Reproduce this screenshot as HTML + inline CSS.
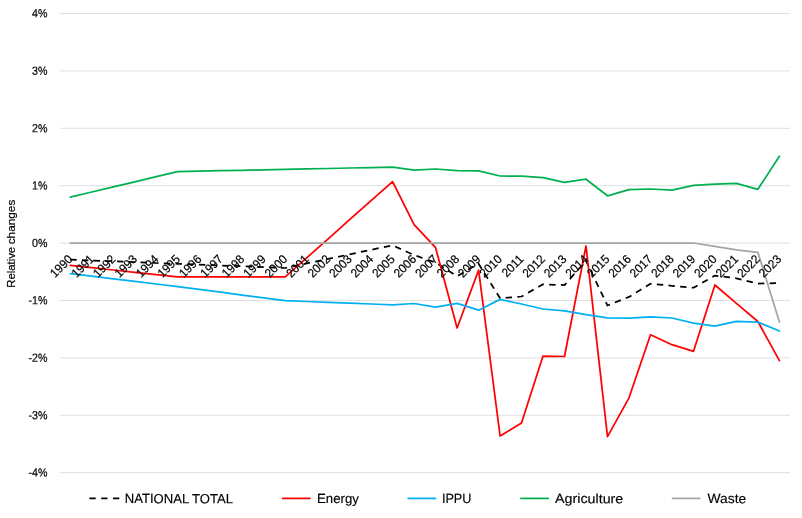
<!DOCTYPE html>
<html><head><meta charset="utf-8"><title>chart</title>
<style>
html,body{margin:0;padding:0;background:#fff;}
svg{display:block;will-change:transform;}
text{font-family:"Liberation Sans",sans-serif;fill:#000;}
.ax{font-size:12.3px;stroke:#000;stroke-width:0.2px;}
.lg{font-size:13.3px;stroke:#000;stroke-width:0.15px;}
</style></head><body>
<svg width="802" height="518" viewBox="0 0 802 518">
<rect width="802" height="518" fill="#fff"/>

<line x1="59.9" x2="789.9" y1="13.5" y2="13.5" stroke="#d9d9d9" stroke-width="0.85"/>
<line x1="59.9" x2="789.9" y1="70.9" y2="70.9" stroke="#d9d9d9" stroke-width="0.85"/>
<line x1="59.9" x2="789.9" y1="128.3" y2="128.3" stroke="#d9d9d9" stroke-width="0.85"/>
<line x1="59.9" x2="789.9" y1="185.7" y2="185.7" stroke="#d9d9d9" stroke-width="0.85"/>
<line x1="59.9" x2="789.9" y1="243.1" y2="243.1" stroke="#d9d9d9" stroke-width="0.85"/>
<line x1="59.9" x2="789.9" y1="300.5" y2="300.5" stroke="#d9d9d9" stroke-width="0.85"/>
<line x1="59.9" x2="789.9" y1="357.9" y2="357.9" stroke="#d9d9d9" stroke-width="0.85"/>
<line x1="59.9" x2="789.9" y1="415.3" y2="415.3" stroke="#d9d9d9" stroke-width="0.85"/>
<line x1="59.9" x2="789.9" y1="472.7" y2="472.7" stroke="#d9d9d9" stroke-width="0.85"/>
<text class="ax" style="font-size:11.8px" text-anchor="end" transform="translate(47.5,17.35) rotate(0.05) scale(0.905,1)">4%</text>
<text class="ax" style="font-size:11.8px" text-anchor="end" transform="translate(47.5,74.75) rotate(0.05) scale(0.905,1)">3%</text>
<text class="ax" style="font-size:11.8px" text-anchor="end" transform="translate(47.5,132.15) rotate(0.05) scale(0.905,1)">2%</text>
<text class="ax" style="font-size:11.8px" text-anchor="end" transform="translate(47.5,189.55) rotate(0.05) scale(0.905,1)">1%</text>
<text class="ax" style="font-size:11.8px" text-anchor="end" transform="translate(47.5,246.95) rotate(0.05) scale(0.905,1)">0%</text>
<text class="ax" style="font-size:11.8px" text-anchor="end" transform="translate(47.5,304.35) rotate(0.05) scale(0.905,1)">-1%</text>
<text class="ax" style="font-size:11.8px" text-anchor="end" transform="translate(47.5,361.75) rotate(0.05) scale(0.905,1)">-2%</text>
<text class="ax" style="font-size:11.8px" text-anchor="end" transform="translate(47.5,419.15) rotate(0.05) scale(0.905,1)">-3%</text>
<text class="ax" style="font-size:11.8px" text-anchor="end" transform="translate(47.5,476.55) rotate(0.05) scale(0.905,1)">-4%</text>
<g fill="none" stroke-linejoin="round" stroke-linecap="butt" stroke-width="1.75">
<path d="M70.3,259.6 L91.8,260.5 L113.3,261.3 L134.8,262.1 L156.3,263.0 L177.7,263.8 L199.2,264.6 L220.7,265.5 L242.2,266.3 L263.7,267.1 L285.2,268.0 L306.7,263.4 L328.2,258.9 L349.6,254.4 L371.1,249.8 L392.6,245.3 L414.1,255.1 L435.6,262.5 L457.1,276.3 L478.6,263.7 L500.1,298.3 L521.5,296.5 L543.0,284.3 L564.5,285.1 L586.0,260.8 L607.5,305.5 L629.0,296.9 L650.5,283.7 L672.0,285.8 L693.5,287.7 L714.9,275.6 L736.4,278.3 L757.9,283.7 L779.4,282.9" stroke="#000" stroke-dasharray="6.4 5.3"/>
<path d="M70.3,265.4 L91.8,267.7 L113.3,270.0 L134.8,272.3 L156.3,274.6 L177.7,276.9 L199.2,276.9 L220.7,276.9 L242.2,276.9 L263.7,276.9 L285.2,276.9 L306.7,257.8 L328.2,238.8 L349.6,219.7 L371.1,200.6 L392.6,181.6 L414.1,224.6 L435.6,247.7 L457.1,328.0 L478.6,270.1 L500.1,436.0 L521.5,423.0 L543.0,356.1 L564.5,356.5 L586.0,246.0 L607.5,436.6 L629.0,397.8 L650.5,334.8 L672.0,344.7 L693.5,351.3 L714.9,285.0 L736.4,303.3 L757.9,321.5 L779.4,360.7" stroke="#ff0000" stroke-linecap="round"/>
<path d="M70.3,273.6 L91.8,276.2 L113.3,278.8 L134.8,281.4 L156.3,284.0 L177.7,286.6 L199.2,289.4 L220.7,292.2 L242.2,295.1 L263.7,297.9 L285.2,300.7 L306.7,301.5 L328.2,302.3 L349.6,303.2 L371.1,304.0 L392.6,304.8 L414.1,303.5 L435.6,307.2 L457.1,303.3 L478.6,310.2 L500.1,299.4 L521.5,304.0 L543.0,309.0 L564.5,310.8 L586.0,314.6 L607.5,317.8 L629.0,318.2 L650.5,316.8 L672.0,318.0 L693.5,323.2 L714.9,326.1 L736.4,321.3 L757.9,322.1 L779.4,331.0" stroke="#00b0f0" stroke-linecap="round"/>
<path d="M70.3,197.1 L91.8,192.0 L113.3,186.9 L134.8,181.8 L156.3,176.7 L177.7,171.6 L199.2,171.1 L220.7,170.7 L242.2,170.3 L263.7,169.8 L285.2,169.4 L306.7,168.9 L328.2,168.5 L349.6,168.0 L371.1,167.6 L392.6,167.1 L414.1,170.2 L435.6,169.0 L457.1,170.6 L478.6,170.8 L500.1,176.0 L521.5,176.2 L543.0,177.7 L564.5,182.4 L586.0,179.2 L607.5,195.8 L629.0,189.6 L650.5,189.0 L672.0,190.2 L693.5,185.4 L714.9,184.2 L736.4,183.3 L757.9,189.3 L779.4,156.2" stroke="#00b050" stroke-linecap="round"/>
<path d="M70.3,243.0 L91.8,243.0 L113.3,243.0 L134.8,243.0 L156.3,243.0 L177.7,243.0 L199.2,243.0 L220.7,243.0 L242.2,243.0 L263.7,243.0 L285.2,243.0 L306.7,243.0 L328.2,243.0 L349.6,243.0 L371.1,243.0 L392.6,243.0 L414.1,243.0 L435.6,243.0 L457.1,243.0 L478.6,243.0 L500.1,243.0 L521.5,243.0 L543.0,243.0 L564.5,243.0 L586.0,243.0 L607.5,243.0 L629.0,243.0 L650.5,243.0 L672.0,243.0 L693.5,243.0 L714.9,246.4 L736.4,249.9 L757.9,252.3 L779.4,322.1" stroke="#a5a5a5" stroke-linecap="round"/>
</g>
<text class="ax" text-anchor="end" transform="translate(73.4,260.0) rotate(-45) scale(0.95,1)">1990</text>
<text class="ax" text-anchor="end" transform="translate(94.9,260.0) rotate(-45) scale(0.95,1)">1991</text>
<text class="ax" text-anchor="end" transform="translate(116.4,260.0) rotate(-45) scale(0.95,1)">1992</text>
<text class="ax" text-anchor="end" transform="translate(137.8,260.0) rotate(-45) scale(0.95,1)">1993</text>
<text class="ax" text-anchor="end" transform="translate(159.3,260.0) rotate(-45) scale(0.95,1)">1994</text>
<text class="ax" text-anchor="end" transform="translate(180.8,260.0) rotate(-45) scale(0.95,1)">1995</text>
<text class="ax" text-anchor="end" transform="translate(202.3,260.0) rotate(-45) scale(0.95,1)">1996</text>
<text class="ax" text-anchor="end" transform="translate(223.7,260.0) rotate(-45) scale(0.95,1)">1997</text>
<text class="ax" text-anchor="end" transform="translate(245.2,260.0) rotate(-45) scale(0.95,1)">1998</text>
<text class="ax" text-anchor="end" transform="translate(266.7,260.0) rotate(-45) scale(0.95,1)">1999</text>
<text class="ax" text-anchor="end" transform="translate(288.1,260.0) rotate(-45) scale(0.95,1)">2000</text>
<text class="ax" text-anchor="end" transform="translate(309.6,260.0) rotate(-45) scale(0.95,1)">2001</text>
<text class="ax" text-anchor="end" transform="translate(331.1,260.0) rotate(-45) scale(0.95,1)">2002</text>
<text class="ax" text-anchor="end" transform="translate(352.6,260.0) rotate(-45) scale(0.95,1)">2003</text>
<text class="ax" text-anchor="end" transform="translate(374.1,260.0) rotate(-45) scale(0.95,1)">2004</text>
<text class="ax" text-anchor="end" transform="translate(395.5,260.0) rotate(-45) scale(0.95,1)">2005</text>
<text class="ax" text-anchor="end" transform="translate(417.0,260.0) rotate(-45) scale(0.95,1)">2006</text>
<text class="ax" text-anchor="end" transform="translate(438.5,260.0) rotate(-45) scale(0.95,1)">2007</text>
<text class="ax" text-anchor="end" transform="translate(460.0,260.0) rotate(-45) scale(0.95,1)">2008</text>
<text class="ax" text-anchor="end" transform="translate(481.4,260.0) rotate(-45) scale(0.95,1)">2009</text>
<text class="ax" text-anchor="end" transform="translate(502.9,260.0) rotate(-45) scale(0.95,1)">2010</text>
<text class="ax" text-anchor="end" transform="translate(524.4,260.0) rotate(-45) scale(0.95,1)">2011</text>
<text class="ax" text-anchor="end" transform="translate(545.9,260.0) rotate(-45) scale(0.95,1)">2012</text>
<text class="ax" text-anchor="end" transform="translate(567.3,260.0) rotate(-45) scale(0.95,1)">2013</text>
<text class="ax" text-anchor="end" transform="translate(588.8,260.0) rotate(-45) scale(0.95,1)">2014</text>
<text class="ax" text-anchor="end" transform="translate(610.3,260.0) rotate(-45) scale(0.95,1)">2015</text>
<text class="ax" text-anchor="end" transform="translate(631.8,260.0) rotate(-45) scale(0.95,1)">2016</text>
<text class="ax" text-anchor="end" transform="translate(653.2,260.0) rotate(-45) scale(0.95,1)">2017</text>
<text class="ax" text-anchor="end" transform="translate(674.7,260.0) rotate(-45) scale(0.95,1)">2018</text>
<text class="ax" text-anchor="end" transform="translate(696.2,260.0) rotate(-45) scale(0.95,1)">2019</text>
<text class="ax" text-anchor="end" transform="translate(717.6,260.0) rotate(-45) scale(0.95,1)">2020</text>
<text class="ax" text-anchor="end" transform="translate(739.1,260.0) rotate(-45) scale(0.95,1)">2021</text>
<text class="ax" text-anchor="end" transform="translate(760.6,260.0) rotate(-45) scale(0.95,1)">2022</text>
<text class="ax" text-anchor="end" transform="translate(782.1,260.0) rotate(-45) scale(0.95,1)">2023</text>
<text class="ax" style="font-size:11.4px" transform="translate(15.0,287.8) rotate(-90) scale(0.9955,1)">Relative</text>
<text class="ax" style="font-size:11.4px" transform="translate(15.0,244.3) rotate(-90) scale(1.0348,1)">changes</text>
<g fill="none" stroke-width="1.75">
<path d="M89.4,498.4 H119.6" stroke="#000" stroke-dasharray="6.3 5.5"/>
<path d="M281.9,498.4 H310.6" stroke="#ff0000"/>
<path d="M407.5,498.4 H436.2" stroke="#00b0f0"/>
<path d="M520.2,498.4 H548.9" stroke="#00b050"/>
<path d="M671.8,498.4 H700.5" stroke="#a5a5a5"/>
</g>
<text class="lg" transform="translate(124.7,503.1) rotate(0.05) scale(0.9844,1)">NATIONAL TOTAL</text>
<text class="lg" transform="translate(317.0,503.1) rotate(0.05) scale(0.9967,1)">Energy</text>
<text class="lg" transform="translate(441.9,503.1) rotate(0.05) scale(0.9535,1)">IPPU</text>
<text class="lg" transform="translate(555.1,503.1) rotate(0.05) scale(1.0728,1)">Agriculture</text>
<text class="lg" transform="translate(707.5,503.1) rotate(0.05) scale(1.0404,1)">Waste</text>
</svg></body></html>
